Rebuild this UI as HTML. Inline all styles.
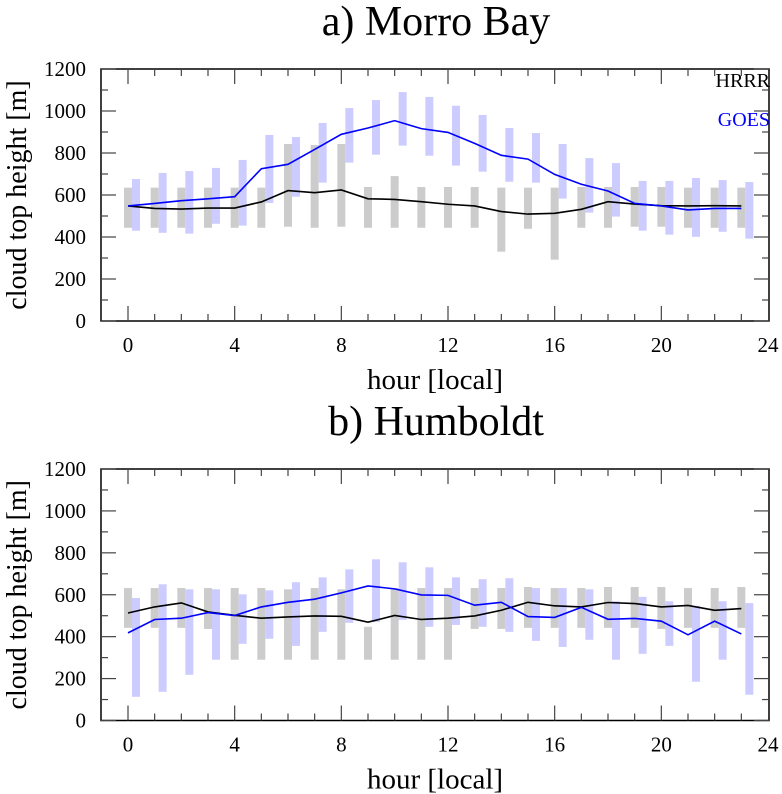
<!DOCTYPE html>
<html><head><meta charset="utf-8"><style>
html,body{margin:0;padding:0;background:#fff;}
svg{display:block;font-family:"Liberation Serif",serif;}
</style></head><body>
<svg id="chart" width="782" height="794" xmlns="http://www.w3.org/2000/svg"></svg>
<script>
const hours = [0,1,2,3,4,5,6,7,8,9,10,11,12,13,14,15,16,17,18,19,20,21,22,23];
const xTicks = [0,4,8,12,16,20,24];
const yTicks = [0,200,400,600,800,1000,1200];
// Panel a: Morro Bay
const aHrrrLine = [548,536,533,538,538,567,621,611,624,582,579,568,556,548,521,509,513,532,568,557,549,548,549,548];
const aHrrrTop = [635,635,635,635,635,635,843,838,843,638,690,638,638,638,635,635,635,638,638,638,638,635,635,635];
const aHrrrBot = [444,444,444,444,444,444,449,444,449,444,444,444,444,444,330,439,292,444,444,449,449,444,444,444];
const aGoesLine = [548,560,573,582,592,725,746,817,889,919,954,916,898,846,789,771,698,651,619,560,548,529,536,536];
const aGoesTop = [676,705,714,729,767,886,876,943,1014,1052,1090,1067,1025,981,919,895,843,776,752,667,667,681,671,662];
const aGoesBot = [430,420,416,463,454,562,592,659,754,792,835,787,740,711,663,659,583,516,497,430,411,401,425,392];
// Panel b: Humboldt
const bHrrrLine = [513,542,561,518,502,488,494,499,497,469,501,482,488,499,526,564,547,542,563,558,542,549,526,534];
const bHrrrTop = [632,632,632,632,632,632,626,632,626,447,632,632,632,632,632,637,632,632,637,637,637,632,632,637];
const bHrrrBot = [442,442,442,437,290,290,290,290,290,290,290,290,290,437,437,442,442,442,442,442,437,442,442,442];
const bGoesLine = [418,482,488,515,501,542,564,579,609,642,628,599,597,550,564,496,492,540,483,487,474,409,474,413];
const bGoesTop = [585,650,626,626,602,621,660,683,721,769,755,731,683,674,679,632,632,626,569,590,569,547,569,560];
const bGoesBot = [113,137,218,290,366,390,356,423,466,470,480,447,456,447,423,380,351,385,290,318,356,185,290,123];

const NS = "http://www.w3.org/2000/svg";
const svg = document.getElementById('chart');
function mk(tag, attrs, parent){
  const e = document.createElementNS(NS, tag);
  for (const k in attrs) e.setAttribute(k, attrs[k]);
  (parent||svg).appendChild(e);
  return e;
}
const X0 = 101, X1 = 769;
function xs(h){ return 128 + h * (640/24); }

function panel(id, top, bottom, title, hl, ht, hb, gl, gt, gb, legend){
  const g = mk('g', {});
  
  
  const ys = v => bottom - v * (bottom - top) / 1200;
  for (let i = 0; i < hours.length; i++){
    const w = 8;
    const r1 = mk('rect', {x: xs(hours[i]) - 4, y: ys(ht[i]), width: w, height: ys(hb[i]) - ys(ht[i]), fill: '#cccccc'}, g);
    
    
    const r2 = mk('rect', {x: xs(hours[i]) + 4, y: ys(gt[i]), width: w, height: ys(gb[i]) - ys(gt[i]), fill: '#ccccff'}, g);
    
    
  }
  const p1 = mk('polyline', {points: hours.map((h,i)=>xs(h)+','+ys(hl[i])).join(' '), fill:'none', stroke:'#000', 'stroke-width':1.6}, g);
  
  
  const p2 = mk('polyline', {points: hours.map((h,i)=>xs(h)+','+ys(gl[i])).join(' '), fill:'none', stroke:'#0000ff', 'stroke-width':1.6}, g);
  
  
  const fr = mk('rect', {x: X0, y: top, width: X1 - X0, height: bottom - top, fill: 'none', stroke: '#000', 'stroke-width': 1.5}, g);
  
  
  for (let h = 0; h <= 23; h++){
    const len = (h % 4 === 0) ? 15 : 7;
    mk('line', {x1: xs(h), x2: xs(h), y1: bottom, y2: bottom - len, stroke: '#444', 'stroke-width': 1.2}, g);
    mk('line', {x1: xs(h), x2: xs(h), y1: top, y2: top + len, stroke: '#444', 'stroke-width': 1.2}, g);
  }
  xTicks.forEach(t => {
    const tx = mk('text', {x: xs(t), y: bottom + 31, 'font-size': 21, 'text-anchor': 'middle'}, g);
    tx.textContent = t;
    
    
  });
  for (let v = 0; v <= 1200; v += 100){
    const len = (v % 200 === 0) ? 15 : 7;
    mk('line', {x1: X0, x2: X0 + len, y1: ys(v), y2: ys(v), stroke: '#444', 'stroke-width': 1.2}, g);
    mk('line', {x1: X1, x2: X1 - len, y1: ys(v), y2: ys(v), stroke: '#444', 'stroke-width': 1.2}, g);
  }
  yTicks.forEach(t => {
    const ty = mk('text', {x: 86, y: ys(t) + 7, 'font-size': 21, 'text-anchor': 'end'}, g);
    ty.textContent = t;
    
    
  });
  const tt = mk('text', {x: 436, y: top - 34, 'font-size': 42, 'text-anchor': 'middle'}, g);
  tt.textContent = title;
  
  
  const xl = mk('text', {x: 435, y: bottom + 68, 'font-size': 29, 'text-anchor': 'middle'}, g);
  xl.textContent = 'hour [local]';
  
  
  const yc = (top + bottom) / 2;
  const yl = mk('text', {x: 26, y: yc, 'font-size': 28, 'text-anchor': 'middle', transform: 'rotate(-90 26 ' + yc + ')'}, g);
  yl.textContent = 'cloud top height [m]';
  
  
  if (legend){
    const l1 = mk('text', {x: 770, y: top + 18, 'font-size': 20, 'text-anchor': 'end', fill: '#000'}, g);
    l1.textContent = 'HRRR';
    
    
    const l2 = mk('text', {x: 770, y: top + 57, 'font-size': 20, 'text-anchor': 'end', fill: '#0000ff'}, g);
    l2.textContent = 'GOES';
    
    
  }
}
panel('morro-bay', 69, 321, 'a) Morro Bay', aHrrrLine, aHrrrTop, aHrrrBot, aGoesLine, aGoesTop, aGoesBot, true);
panel('humboldt', 469, 720.5, 'b) Humboldt', bHrrrLine, bHrrrTop, bHrrrBot, bGoesLine, bGoesTop, bGoesBot, false);
</script>
</body></html>
